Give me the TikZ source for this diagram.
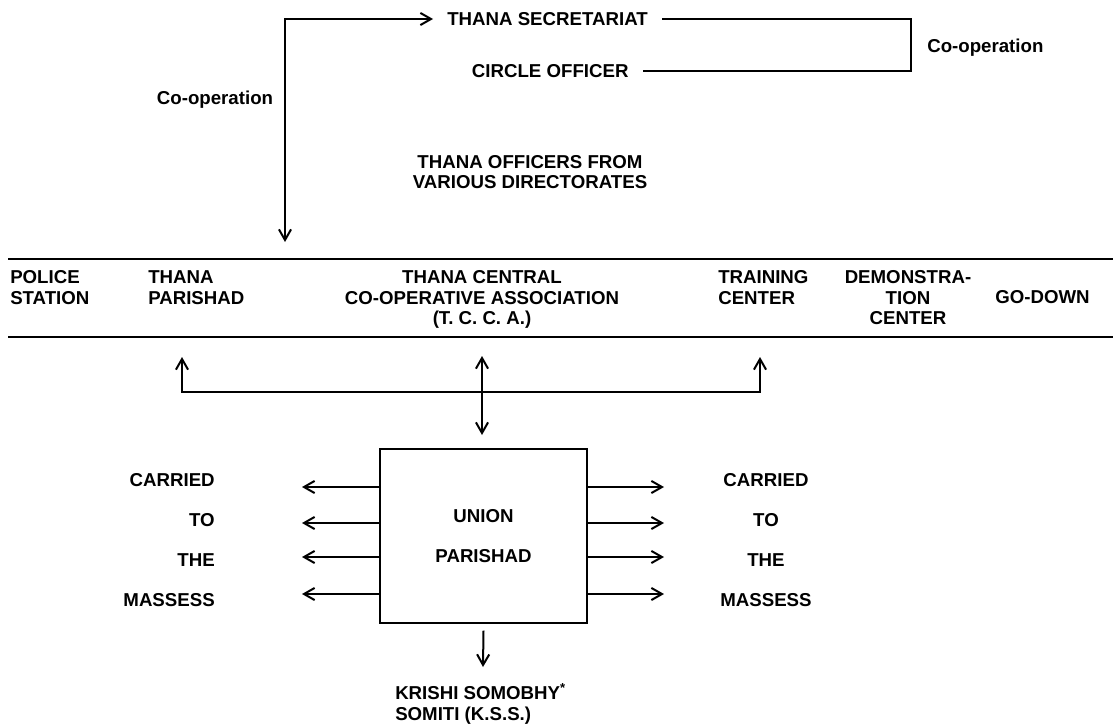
\documentclass[tikz,border=0pt]{standalone}
\usepackage{fontspec}
\setmainfont{Liberation Sans}
\usetikzlibrary{positioning, calc, arrows.meta}

\begin{document}
\begin{tikzpicture}[
  x=0.75pt, y=-0.75pt,
  font=\fontsize{14}{15.4}\selectfont\bfseries,
  figlabel/.style={inner sep=0pt, align=left},
  figunitbox/.style={
    rectangle, draw=black, line width=1.5pt,
    minimum width=155.25pt, minimum height=130.5pt,
    align=center, inner sep=0pt,
  },
  figrule/.style={line width=1.5pt},
  figflow/.style={
    -{Straight Barb[length=2.8mm, width=3.2mm]}, line width=1.5pt,
  },
  figflowboth/.style={
    {Straight Barb[length=2.8mm, width=3.2mm]}-{Straight Barb[length=2.8mm, width=3.2mm]},
    line width=1.5pt,
  },
]
\useasboundingbox (0,0) rectangle (1117,725);

% top: secretariat and circle officer
\node[anchor=west, inner xsep=10.5pt, inner ysep=0pt] (figsec) at (433,19) {THANA SECRETARIAT};
\node[anchor=west, inner xsep=11pt, inner ysep=0pt] (figcirc) at (457,71) {CIRCLE OFFICER};
\node[figlabel, anchor=base west] (figcoopR) at (927,52) {Co-operation};
\node[figlabel, anchor=base] (figcoopL) at (215,104) {Co-operation};
\node[figlabel, anchor=north, align=center] (figofficers) at (530,155) {%
  THANA OFFICERS FROM\\VARIOUS DIRECTORATES};

\coordinate (figbrtop) at (911,19);
\coordinate (figbrbot) at (911,71);
\coordinate (figcoopturn) at (285,19);
\coordinate (figcoopend) at (285,242);
\draw[figrule] (figsec.east) -- (figbrtop) -- (figbrbot) -- (figcirc.east);
\draw[figflowboth] (figcoopend) -- (figcoopturn) -- (figsec.west);

% thana band
\draw[figrule] (8,259) -- (1113,259);
\draw[figrule] (8,337) -- (1113,337);
\node[figlabel, anchor=north west] (figpolice) at (10,270.5) {POLICE\\STATION};
\node[figlabel, anchor=north west] (figtpar) at (148,270.5) {THANA\\PARISHAD};
\node[figlabel, anchor=north, align=center] (figtcca) at (482,270.5) {%
  THANA CENTRAL\\CO-OPERATIVE ASSOCIATION\\(T. C. C. A.)};
\node[figlabel, anchor=north west] (figtrain) at (718,270.5) {TRAINING\\CENTER};
\node[figlabel, anchor=north, align=center] (figdemo) at (908,270.5) {%
  DEMONSTRA-\\TION\\CENTER};
\node[figlabel, anchor=base west] (figgodown) at (995,303.7) {GO-DOWN};

% links below the band
\coordinate (figjoinL) at (182,392);
\coordinate (figjoinR) at (760,392);
\coordinate (figtparup) at (182,357);
\coordinate (figtrainup) at (760,357);
\coordinate (figtccaup) at (482,356);
\coordinate (figuniontop) at (482,435);
\draw[figflowboth] (figtparup) -- (figjoinL) -- (figjoinR) -- (figtrainup);
\draw[figflowboth] (figtccaup) -- (figuniontop);

% union parishad
\node[figunitbox] (figunion) at (483.5,536) {UNION\\[14.6pt]PARISHAD};

\foreach \yy [count=\i] in {487,523,557,594} {
  \coordinate (figleft\i) at (302,\yy);
  \coordinate (figright\i) at (664,\yy);
  \draw[figflow] (figunion.west |- figleft\i) -- (figleft\i);
  \draw[figflow] (figunion.east |- figright\i) -- (figright\i);
}
\foreach \word/\yy [count=\i] in {CARRIED/480, TO/520, THE/560, MASSESS/600} {
  \node[figlabel, anchor=base east] (figmassL\i) at (215,\yy+6.7) {\word};
  \node[figlabel, anchor=base] (figmassR\i) at (766,\yy+6.7) {\word};
}

\node[figlabel, anchor=north west] (figkss) at (395,683.3) {%
  KRISHI SOMOBHY\textsuperscript{*}\\SOMITI (K.S.S.)};
\coordinate (figkssin) at (483,667);
\draw[figflow] ([yshift=-5pt]figunion.south) -- (figkssin);
\end{tikzpicture}
\end{document}
